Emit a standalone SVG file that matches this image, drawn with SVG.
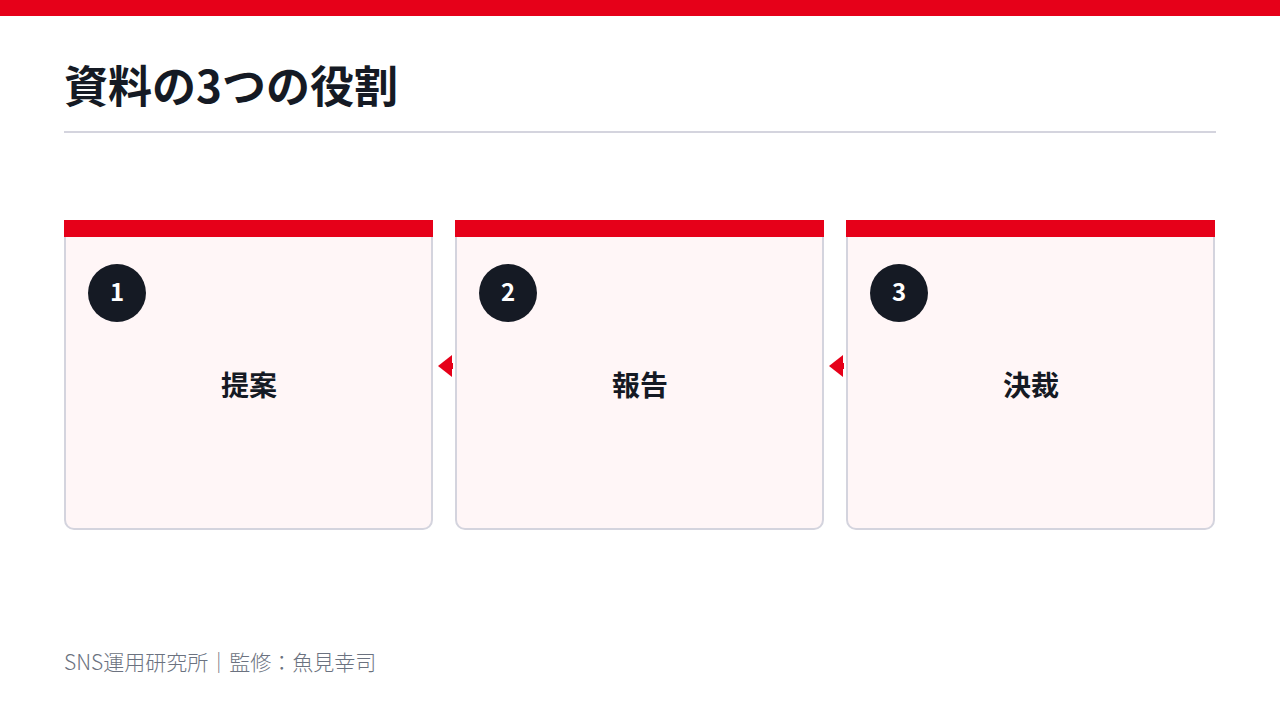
<svg xmlns="http://www.w3.org/2000/svg" width="1280" height="720" viewBox="0 0 1280 720">
<style>
.card{fill:#fff6f7;stroke:#d4d4de;stroke-width:2}
.bar{fill:#e60019}
.num{fill:#151a24}
.numt{fill:#fff;font-family:"Noto Sans CJK JP","Noto Sans",sans-serif;font-weight:700;font-size:24px;text-anchor:middle}
.lbl{fill:#151a24;font-family:"Noto Sans CJK JP",sans-serif;font-weight:700;font-size:28px;text-anchor:middle}
.arr{fill:#e60019}
</style>
<rect x="0" y="0" width="1280" height="16" fill="#e60019"/>
<text x="64" y="103" font-family="'Noto Sans CJK JP',sans-serif" font-weight="700" font-size="44" fill="#151a24">資料の3つの役割</text>
<rect x="64" y="131" width="1152" height="2" fill="#d4d4de"/>
<g id="connectors">
<g id="c1"><rect x="446" y="363" width="7" height="6" class="arr"/><polygon points="438,366 452,355 452,377" class="arr"/></g>
<g id="c2"><rect x="837" y="363" width="7" height="6" class="arr"/><polygon points="829,366 843,355 843,377" class="arr"/></g>
</g>
<g id="node1">
<rect x="65" y="221" width="367" height="308" rx="9" class="card"/>
<rect x="64" y="220" width="369" height="17" class="bar"/>
<circle cx="117" cy="293" r="29" class="num"/>
<text x="117" y="301" class="numt">1</text>
<text x="249" y="396" class="lbl">提案</text>
</g>
<g id="node2">
<rect x="456" y="221" width="367" height="308" rx="9" class="card"/>
<rect x="455" y="220" width="369" height="17" class="bar"/>
<circle cx="508" cy="293" r="29" class="num"/>
<text x="508" y="301" class="numt">2</text>
<text x="640" y="396" class="lbl">報告</text>
</g>
<g id="node3">
<rect x="847" y="221" width="367" height="308" rx="9" class="card"/>
<rect x="846" y="220" width="369" height="17" class="bar"/>
<circle cx="899" cy="293" r="29" class="num"/>
<text x="899" y="301" class="numt">3</text>
<text x="1031" y="396" class="lbl">決裁</text>
</g>
<text x="64" y="670" font-family="'Noto Sans CJK JP',sans-serif" font-weight="300" font-size="21" fill="#6b7280">SNS運用研究所｜監修：魚見幸司</text>
</svg>
